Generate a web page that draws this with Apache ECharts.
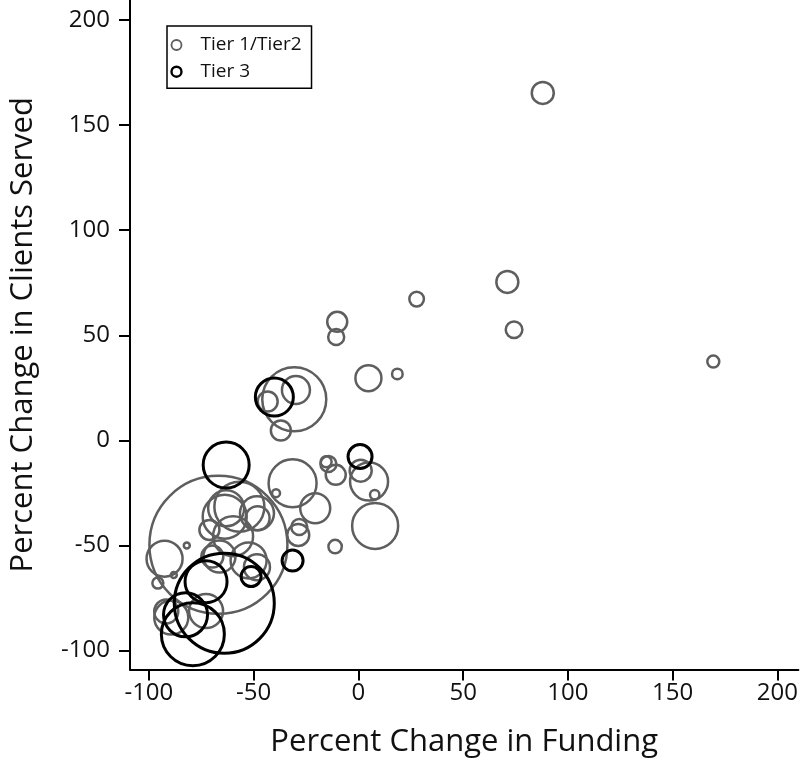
<!DOCTYPE html>
<html>
<head>
<meta charset="utf-8">
<script src="https://cdn.jsdelivr.net/npm/echarts@6/dist/echarts.min.js"></script>
<style>
  html, body { margin: 0; padding: 0; background: #fff; }
  #chart { width: 801px; height: 766px; }
</style>
</head>
<body>
<div id="chart"></div>
<script>
// axis ticks
const xTicks = [-100, -50, 0, 50, 100, 150, 200]
const yTicks = [-100, -50, 0, 50, 100, 150, 200]

// Tier 1/Tier2 programs: % change funding, % change clients, bubble size
const tier12X = [88, 71.1, 27.8, 74.3, 169.4, 18.6, 4.8, -10.1, -10.6, -30.6, -29.8, -43.3, -37, -14.3, -15.4, -10.8, 1.1, 5.1, 7.8, 8, -11.1, -31.4, -39.3, -20.6, -28.7, -28.2, -66.8, -92.5, -81.9, -88.1, -95.7, -89.3, -72.7, -91.7, -56.8, -63.8, -48.4, -59.8, -52.4, -48.4, -66.3, -69.7, -71.1, -63.1, -48.1]
const tier12Y = [165.3, 75.4, 67.2, 52.6, 37.5, 31.6, 29.6, 56.4, 49.2, 19.6, 24, 18.5, 4.7, -11.2, -10.2, -16.4, -14.4, -19.6, -25.9, -40.7, -50.5, -20.4, -25.1, -32.3, -45, -41.2, -49.7, -56.3, -50, -64.1, -67.9, -84.3, -81.2, -81.4, -31.6, -36.3, -34.7, -45.6, -57.1, -60.3, -55.3, -55.3, -42.6, -32.3, -37]
const tier12Size = [11, 11, 7.3, 8.3, 6, 5.3, 13, 10, 8, 32, 14, 10, 10, 8, 5.5, 10, 11, 19, 4.7, 23, 6.7, 24, 4, 15, 11, 8, 69, 18, 3, 3, 5.5, 17, 17, 12, 25, 22, 17, 20, 18, 13, 16, 11, 10, 18, 12]

// Tier 3 programs
const tier3X = [-40.1, 0.8, -63.1, -31.4, -51.2, -64, -72.7, -82.5, -79]
const tier3Y = [20.6, -7.7, -11.7, -57.2, -64.8, -77.5, -67.2, -83, -92.2]
const tier3Size = [19, 12, 23, 10.5, 10, 50, 21, 22, 31.5]

const toPoints = (xs, ys, ss) => xs.map((x, i) => [x, ys[i], ss[i]])

const font = '"Open Sans", sans-serif'
const grayColor = '#5e5e5e'
const blackColor = '#000000'

const chart = echarts.init(document.getElementById('chart'))

const axisCommon = {
  type: 'value',
  splitLine: { show: false },
  axisLine: { show: true, onZero: false, lineStyle: { color: '#000', width: 2 } },
  axisTick: { show: true, inside: false, length: 11, lineStyle: { color: '#000', width: 2 } },
  nameLocation: 'middle',
  nameTextStyle: { fontFamily: font, fontSize: 31, color: '#111' }
}

chart.setOption({
  animation: false,
  backgroundColor: '#fff',
  grid: { left: 130, right: 0, top: 0, bottom: 96.5 },
  legend: {
    left: 167,
    top: 26,
    orient: 'vertical',
    borderColor: '#000',
    borderWidth: 1.5,
    padding: [9.5, 10, 7, 3.3],
    itemGap: 7.7,
    itemWidth: 26,
    itemHeight: 10,
    formatter: '{t|{name}}',
    textStyle: {
      fontFamily: font, fontSize: 19, color: '#111', lineHeight: 19,
      rich: { t: { fontFamily: font, fontSize: 19, color: '#111', lineHeight: 19, padding: [0, 0, 0, 6] } }
    },
    data: [
      { name: 'Tier 1/Tier2', icon: 'circle', itemStyle: { color: 'transparent', borderColor: grayColor, borderWidth: 1.8 } },
      { name: 'Tier 3', icon: 'circle', itemStyle: { color: 'transparent', borderColor: blackColor, borderWidth: 2.4 } }
    ]
  },
  xAxis: {
    ...axisCommon,
    min: -109,
    max: 210,
    name: 'Percent Change in Funding',
    nameGap: 57,
    axisTick: { ...axisCommon.axisTick, customValues: xTicks },
    axisLabel: { customValues: xTicks, margin: 12, fontFamily: font, fontSize: 24, color: '#111' }
  },
  yAxis: {
    ...axisCommon,
    min: -109,
    max: 209.5,
    name: 'Percent Change in Clients Served',
    nameGap: 91,
    axisTick: { ...axisCommon.axisTick, customValues: yTicks },
    axisLabel: { customValues: yTicks, margin: 20, fontFamily: font, fontSize: 24, color: '#111' }
  },
  series: [
    {
      name: 'Tier 1/Tier2',
      type: 'scatter',
      symbol: 'circle',
      symbolSize: d => d[2] * 2,
      data: toPoints(tier12X, tier12Y, tier12Size),
      itemStyle: { color: 'transparent', borderColor: grayColor, borderWidth: 2.5, opacity: 1 },
      emphasis: { disabled: true }
    },
    {
      name: 'Tier 3',
      type: 'scatter',
      symbol: 'circle',
      symbolSize: d => d[2] * 2,
      data: toPoints(tier3X, tier3Y, tier3Size),
      itemStyle: { color: 'transparent', borderColor: blackColor, borderWidth: 3, opacity: 1 },
      emphasis: { disabled: true }
    }
  ]
})

window.addEventListener('resize', () => chart.resize())
</script>
</body>
</html>
